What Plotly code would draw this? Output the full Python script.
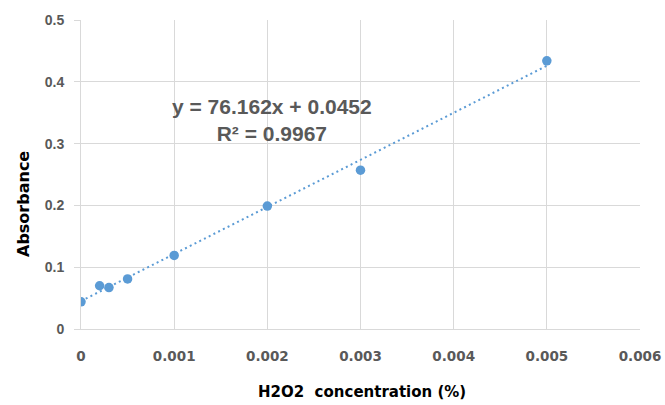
import plotly.graph_objects as go

conc = [0, 0.0002, 0.0003, 0.0005, 0.001, 0.002, 0.003, 0.005]
absorbance = [0.044, 0.070, 0.067, 0.081, 0.119, 0.199, 0.257, 0.434]
slope = 76.162
intercept = 0.0452
r2 = 0.9967
trend_x = [0, 0.005]
x_ticks = [0, 0.001, 0.002, 0.003, 0.004, 0.005, 0.006]
x_tick_labels = ["0", "0.001", "0.002", "0.003", "0.004", "0.005", "0.006"]
y_ticks = [0, 0.1, 0.2, 0.3, 0.4, 0.5]
y_tick_labels = ["0", "0.1", "0.2", "0.3", "0.4", "0.5"]

blue = "#5b9bd5"
grid = "#d9d9d9"
tick_color = "#595959"
arial = "Liberation Sans, Arial, sans-serif"
wide = "DejaVu Sans, sans-serif"

W, H = 665, 405
L, R, T, B = 81, 25, 20, 76
pw, ph = W - L - R, H - T - B


def px_to_paper(px, py):
    return (px - L) / pw, 1 - (py - T) / ph


fig = go.Figure()
fig.add_trace(go.Scatter(
    x=trend_x, y=[slope * v + intercept for v in trend_x],
    mode="lines", line=dict(color=blue, width=2, dash="2px,3.3px"),
    hoverinfo="skip", showlegend=False))
fig.add_trace(go.Scatter(
    x=conc, y=absorbance, mode="markers",
    marker=dict(color=blue, size=9.5), showlegend=False))

fig.add_annotation(
    x=0.002045, y=0.339, xref="x", yref="y", showarrow=False,
    xanchor="center", yanchor="middle",
    text=f"<b>y = {slope}x + {intercept}</b><br><b>R² = {r2}</b>",
    font=dict(family=arial, size=21, color=tick_color), align="center")

tx, ty = px_to_paper(362, 392)
fig.add_annotation(
    x=tx, y=ty, xref="paper", yref="paper", showarrow=False,
    xanchor="center", yanchor="middle",
    text="<b>H2O2  concentration (%)</b>",
    font=dict(family=wide, size=15, color="black"))
ax_, ay_ = px_to_paper(23, 204)
fig.add_annotation(
    x=ax_, y=ay_, xref="paper", yref="paper", showarrow=False, textangle=-90,
    xanchor="center", yanchor="middle",
    text="<b>Absorbance</b>",
    font=dict(family=wide, size=16, color="black"))

fig.update_layout(
    width=W, height=H,
    margin=dict(l=L, r=R, t=T, b=B, autoexpand=False),
    paper_bgcolor="white", plot_bgcolor="white",
    font=dict(family=arial),
    xaxis=dict(
        range=[0, 0.006], tickvals=x_ticks, ticktext=[f"<b>{t}</b>" for t in x_tick_labels],
        showgrid=True, gridcolor=grid, gridwidth=1, automargin=False,
        showline=True, linecolor=grid, linewidth=1, zeroline=False,
        ticks="", ticklabelstandoff=15,
        tickfont=dict(size=13.5, color=tick_color, family=wide),
    ),
    yaxis=dict(
        range=[0, 0.5], tickvals=y_ticks, ticktext=[f"<b>{t}</b>" for t in y_tick_labels],
        showgrid=True, gridcolor=grid, gridwidth=1, automargin=False,
        showline=True, linecolor=grid, linewidth=1, zeroline=False,
        ticks="outside", ticklen=6, tickcolor=grid, ticklabelstandoff=7,
        tickfont=dict(size=14, color=tick_color, family=arial),
    ),
)
fig.write_html(
    "out.html",
    config={"displayModeBar": False},
    post_script="document.body.style.margin='0px';document.body.style.overflow='hidden';",
)
